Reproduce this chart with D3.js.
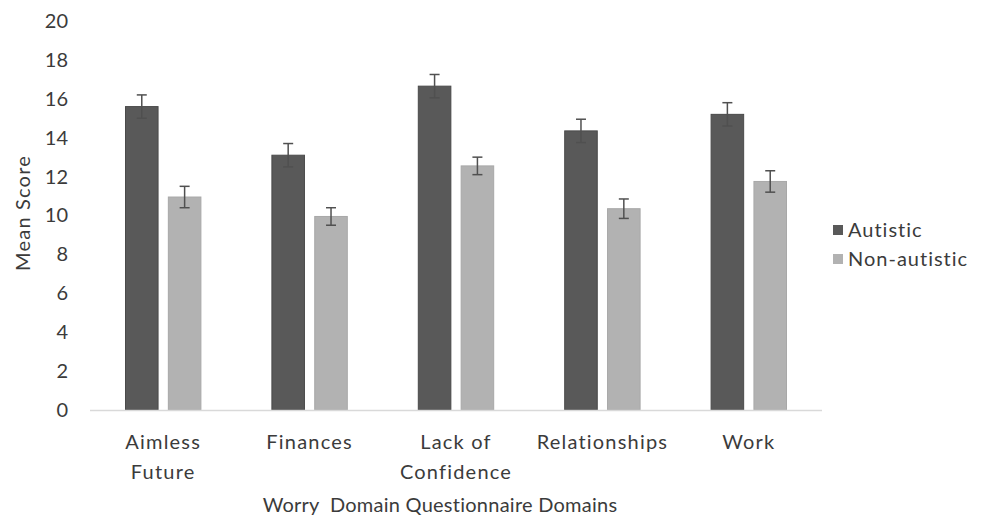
<!DOCTYPE html>
<html>
<head>
<meta charset="utf-8">
<script src="https://cdn.jsdelivr.net/npm/d3@7"></script>
<style>
  body { margin: 0; background: #fff; }
  text { font-family: Lato, "Open Sans", sans-serif; fill: #3b3b3b; }
</style>
</head>
<body>
<div id="chart"></div>
<script>
// data
const domains = [["Aimless", "Future"], ["Finances"], ["Lack of", "Confidence"], ["Relationships"], ["Work"]];
const groups = ["Autistic", "Non-autistic"];
const autistic = [15.6, 13.1, 16.65, 14.35, 15.2];
const nonAutistic = [10.95, 9.95, 12.55, 10.35, 11.75];
const autisticErr = [0.6, 0.6, 0.6, 0.6, 0.6];
const nonAutisticErr = [0.55, 0.45, 0.45, 0.5, 0.55];
const yTicks = [0, 2, 4, 6, 8, 10, 12, 14, 16, 18, 20];

const colors = { "Autistic": "#595959", "Non-autistic": "#b2b2b2" };

let width = 981, height = 517;

let svg = d3.select("#chart")
    .append("svg")
    .attr("width", width)
    .attr("height", height);

let names = domains.map(d => d.join(" "));

let x = d3.scaleBand()
    .domain(names)
    .range([90, 822]);

let xInner = d3.scaleBand()
    .domain(groups)
    .range([35.5, x.bandwidth() - 35.5])
    .paddingInner(0.24);

let y = d3.scaleLinear()
    .domain([0, 20])
    .range([410, 21]);

// build rows for bars
let rows = [];
names.forEach((n, i) => {
    rows.push({ domain: n, group: "Autistic", value: autistic[i], err: autisticErr[i] });
    rows.push({ domain: n, group: "Non-autistic", value: nonAutistic[i], err: nonAutisticErr[i] });
});

// y axis labels (no axis line)
let yAxis = svg.append("g")
    .attr("transform", "translate(68,0)")
    .call(d3.axisLeft(y).tickValues(yTicks).tickSize(0).tickPadding(0));
yAxis.select(".domain").remove();
yAxis.selectAll("text")
    .attr("font-size", "20px")
    .attr("font-family", "Lato, 'Open Sans', sans-serif")
    .attr("fill", "#3b3b3b");

// bars
svg.selectAll("rect.bar")
    .data(rows)
    .enter()
    .append("rect")
    .attr("class", "bar")
    .attr("x", d => x(d.domain) + xInner(d.group))
    .attr("width", xInner.bandwidth())
    .attr("y", d => y(d.value))
    .attr("height", d => y(0) - y(d.value))
    .attr("fill", d => colors[d.group])
    .attr("stroke", d => d.group === "Autistic" ? "#4a4a4a" : "#a8a8a8")
    .attr("stroke-width", 1);

// error bars
let eb = svg.selectAll("g.err")
    .data(rows)
    .enter()
    .append("g")
    .attr("class", "err")
    .attr("stroke", "#505050")
    .attr("stroke-width", 1.5);

let cx = d => x(d.domain) + xInner(d.group) + xInner.bandwidth() / 2;

eb.append("line")
    .attr("x1", cx).attr("x2", cx)
    .attr("y1", d => y(d.value - d.err))
    .attr("y2", d => y(d.value + d.err));
eb.append("line")
    .attr("x1", d => cx(d) - 5).attr("x2", d => cx(d) + 5)
    .attr("y1", d => y(d.value + d.err))
    .attr("y2", d => y(d.value + d.err));
eb.append("line")
    .attr("x1", d => cx(d) - 5).attr("x2", d => cx(d) + 5)
    .attr("y1", d => y(d.value - d.err))
    .attr("y2", d => y(d.value - d.err));

// x axis line
svg.append("line")
    .attr("x1", 90).attr("x2", 822)
    .attr("y1", y(0) + 0.5).attr("y2", y(0) + 0.5)
    .attr("stroke", "#d9d9d9")
    .attr("stroke-width", 1.5);

// category labels
let cat = svg.selectAll("text.cat")
    .data(domains)
    .enter()
    .append("text")
    .attr("class", "cat")
    .attr("text-anchor", "middle")
    .attr("font-size", "20px")
    .attr("letter-spacing", "1.2px")
    .attr("x", (d, i) => x(names[i]) + x.bandwidth() / 2)
    .attr("y", 449);

cat.selectAll("tspan")
    .data(d => d)
    .enter()
    .append("tspan")
    .attr("x", function () { return d3.select(this.parentNode).attr("x"); })
    .attr("dy", (d, i) => i === 0 ? 0 : 30)
    .text(d => d);

// axis titles
svg.append("text")
    .attr("x", 440)
    .attr("y", 512)
    .attr("text-anchor", "middle")
    .attr("font-size", "20px")
    .attr("letter-spacing", "0.25px")
    .attr("xml:space", "preserve")
    .text("Worry  Domain Questionnaire Domains");

svg.append("text")
    .attr("transform", "translate(30,213) rotate(-90)")
    .attr("text-anchor", "middle")
    .attr("font-size", "20px")
    .attr("letter-spacing", "1.2px")
    .text("Mean Score");

// legend
let legend = svg.selectAll("g.legend")
    .data(groups)
    .enter()
    .append("g")
    .attr("class", "legend")
    .attr("transform", (d, i) => "translate(833," + (230 + i * 29) + ")");

legend.append("rect")
    .attr("x", 0).attr("y", -5)
    .attr("width", 10).attr("height", 10)
    .attr("fill", d => colors[d]);

legend.append("text")
    .attr("x", 15)
    .attr("y", 7)
    .attr("font-size", "20px")
    .attr("letter-spacing", "1px")
    .text(d => d);
</script>
</body>
</html>
